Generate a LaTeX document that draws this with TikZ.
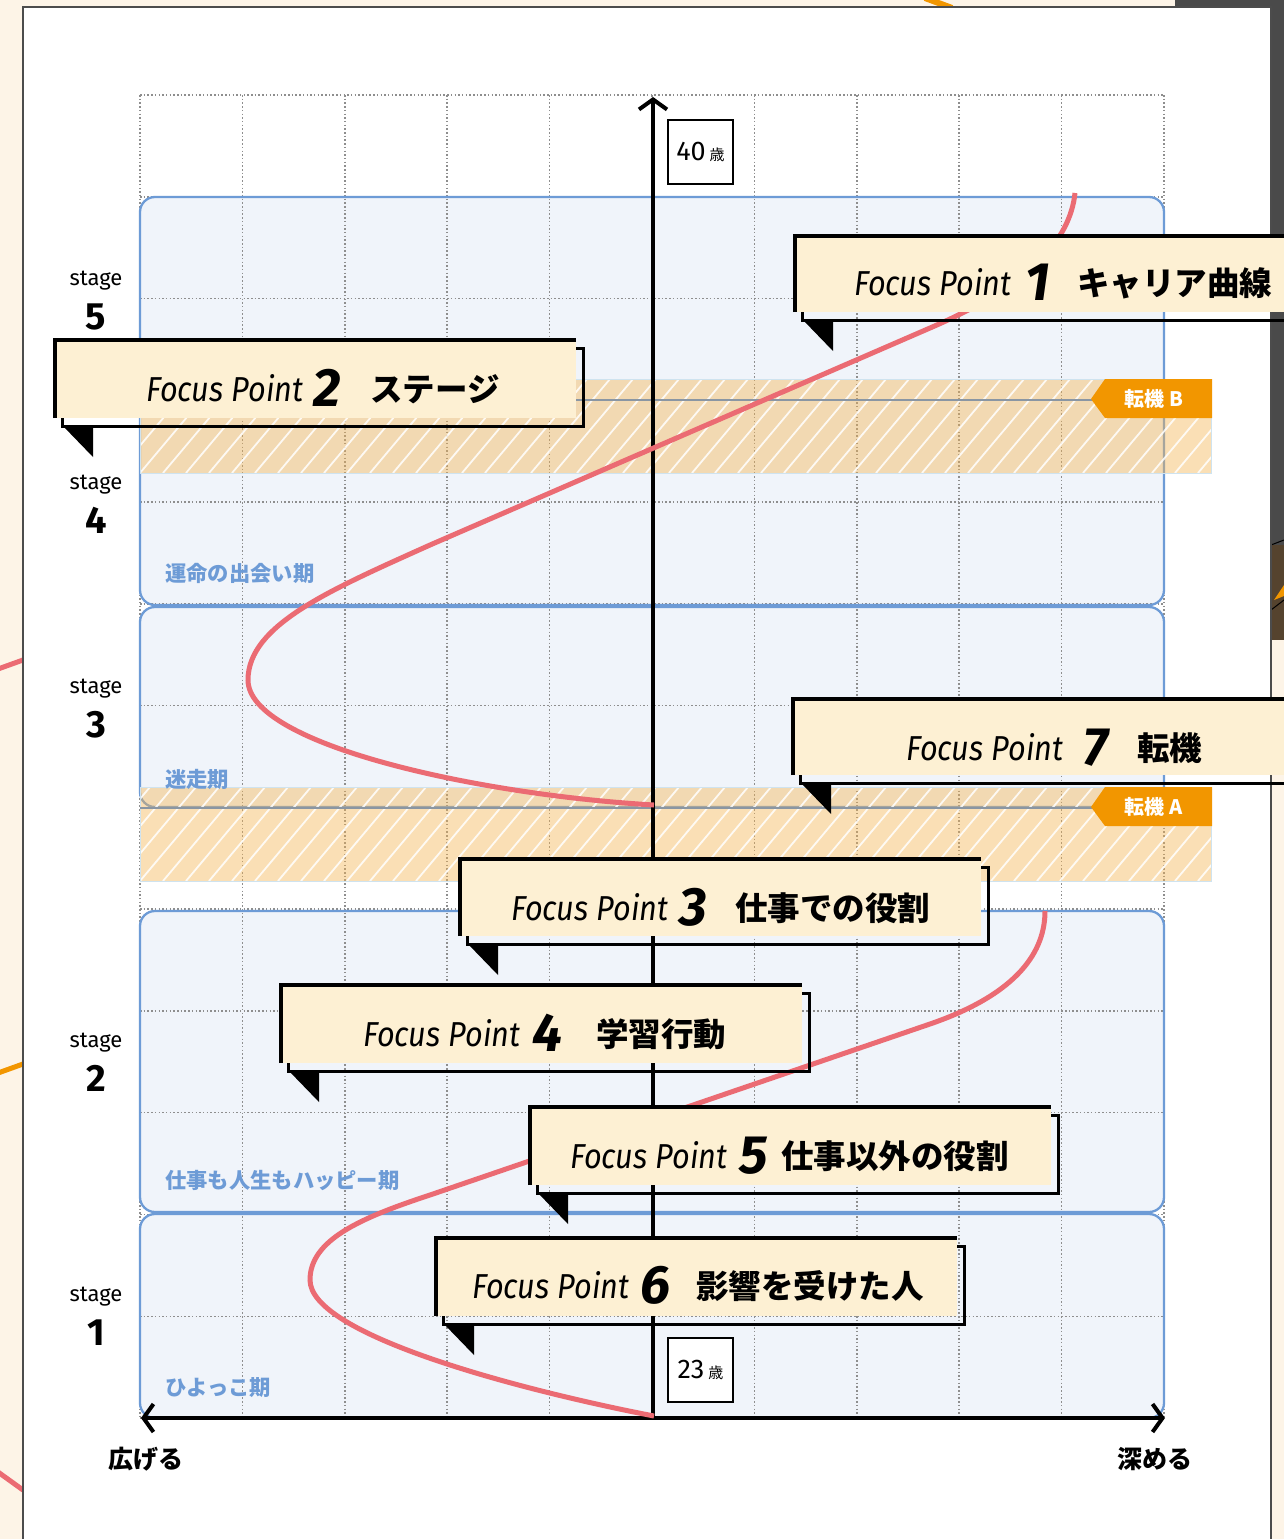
\documentclass[tikz,border=0pt]{standalone}
\usepackage{graphicx}
\usepackage{fontspec}
\setmainfont{Fira Sans}
\newfontfamily\jp{Noto Sans CJK JP}
\usetikzlibrary{arrows.meta}
\definecolor{cream}{HTML}{FDF4E7}
\definecolor{boxblue}{HTML}{6D9BD6}
\definecolor{boxfill}{HTML}{F0F4FA}
\definecolor{fpcream}{HTML}{FDF0D3}
\definecolor{curvered}{HTML}{EB6B73}
\definecolor{tagorange}{HTML}{F29600}
\definecolor{hatchorange}{HTML}{F5B450}
\definecolor{gridgray}{HTML}{8E8E8E}
\definecolor{bandline}{HTML}{8A96A3}
\definecolor{bandedge}{HTML}{CFE3EF}
\definecolor{artgray}{HTML}{4A4A4A}
\definecolor{artbrown}{HTML}{55432E}

\newcommand\fpbox[4]{%
  \draw[line width=3pt] (#1+7,#2+8) rectangle (#3,#4);
  \fill[fpcream] (#1,#2) rectangle (#3-7,#4-8);
  \draw[line width=3.5pt] (#1,#4-8) -- (#1,#2) -- (#3-7,#2);
  \fill (#1+8,#4) -- (#1+38,#4) -- (#1+38,#4+31) -- cycle;
}
\newcommand\fptext[7]{%
  \node[fplabel] (#1a) at (#2,#3) {\resizebox{157pt}{27pt}{\itshape Focus Point}};
  \node[fplabel] (#1b) at (#5,#3+5) {\fontsize{54}{54}\selectfont\bfseries\itshape #4};
  \node[fplabel] (#1c) at (#7,#3) {\jp\bfseries\fontsize{32.5}{33}\selectfont #6};
}
\newcommand\hband[1]{%
  \fill[hatchorange, opacity=0.42] (140,#1) rectangle (1211,#1+94);
  \begin{scope}
    \clip (140,#1) rectangle (1211,#1+94);
    \foreach \i in {-4,...,48} \draw[white, line width=1.8pt, opacity=0.85] ({140+\i*23},#1+94) -- ++(79,-94);
  \end{scope}
  \draw[bandedge, line width=0.8pt] (140,#1) rectangle (1211,#1+94);
}
\newcommand\turntag[3]{%
  \draw[bandline, line width=2.5pt] (140,#1+21) -- (1095,#1+21);
  \fill[tagorange] (1105,#1) -- (1212,#1) -- (1212,#1+39) -- (1105,#1+39) -- (1091,#1+20) -- cycle;
  \node[taglabel] (#2) at (1154,#1+20) {\jp\bfseries 転機\hspace{5pt}\textbf{#3}};
}

\begin{document}
\begin{tikzpicture}[x=1pt,y=-1pt,
  gridline/.style={gridgray, line width=1.5pt, dash pattern=on 1.5pt off 2.2pt},
  stagebox/.style={fill=boxfill, rounded corners=15pt},
  stageedge/.style={draw=boxblue, line width=2.3pt, rounded corners=15pt},
  axisline/.style={line width=4pt, black},
  barb/.tip={Straight Barb[length=10pt, width=28pt, line width=4pt]},
  fplabel/.style={anchor=base west, inner sep=0pt},
  taglabel/.style={text=white, font=\fontsize{20}{20}\selectfont, inner sep=0pt},
  stagelbl/.style={anchor=base, inner sep=0pt, font=\fontsize{22}{22}\selectfont},
  stagenum/.style={anchor=base, inner sep=0pt, font=\fontsize{38}{38}\selectfont\bfseries},
  periodlbl/.style={anchor=base west, inner sep=0pt, text=boxblue, font=\jp\bfseries\fontsize{21.3}{22}\selectfont},
  agebox/.style={draw, line width=2pt, fill=white, minimum width=65pt, minimum height=64pt, inner sep=0pt},
  dirlbl/.style={inner sep=0pt, font=\jp\bfseries\fontsize{25}{25}\selectfont},
  curveline/.style={curvered, line width=5pt}
]
\useasboundingbox (0,0) rectangle (1284,1539);
% background
\fill[cream] (0,0) rectangle (1284,1539);
\draw[tagorange, line width=6pt] (925,-2) -- (952,8);
\draw[curvered, line width=5pt] (-2,669) -- (23,660);
\draw[tagorange, line width=5pt] (-2,1073) -- (23,1064);
\draw[curvered, line width=5pt] (-2,1472) -- (23,1490);
\fill[artgray] (1175,0) rectangle (1284,8);
\fill[artgray] (1271,8) rectangle (1284,545);
\fill[artbrown] (1271,545) rectangle (1284,640);
\draw[black, line width=1pt] (1271,545) -- (1284,540) (1271,610) -- (1284,600);
\fill[tagorange] (1274,600) -- (1284,585) -- (1284,596) -- cycle;
\filldraw[fill=white, draw=black!70, line width=1.5pt] (23,7) rectangle (1271,1550);

% stage boxes
\fill[stagebox] (140,197) rectangle (1164,605);
\fill[stagebox] (140,607) rectangle (1164,807);
\fill[stagebox] (140,911) rectangle (1164,1212);
\fill[stagebox] (140,1214) rectangle (1164,1418);
% grid
\foreach \k in {0,...,10} \draw[gridline] ({140+\k*102.4},95) -- ({140+\k*102.4},1418);
\foreach \j in {0,...,13} \draw[gridline] (140,{95+\j*101.77}) -- (1164,{95+\j*101.77});
% box edges
\draw[stageedge] (140,197) rectangle (1164,605);
\draw[stageedge] (140,607) rectangle (1164,807);
\draw[stageedge] (140,911) rectangle (1164,1212);
\draw[stageedge] (140,1214) rectangle (1164,1418);

% turning-point bands
\hband{379}
\hband{787}
\turntag{379}{tagB}{B}
\turntag{787}{tagA}{A}

% period labels
\node[periodlbl] (p4) at (165,581) {運命の出会い期};
\node[periodlbl] (p3) at (165,787) {迷走期};
\node[periodlbl] (p2) at (165,1188) {仕事も人生もハッピー期};
\node[periodlbl] (p1) at (165,1395) {ひよっこ期};

% axes
\coordinate (O) at (653,1418);
\coordinate (Ytop) at (653,97);
\coordinate (Xl) at (141,1418);
\coordinate (Xr) at (1165,1418);
\draw[axisline, -{barb}] (O) -- (Ytop);
\draw[axisline, {barb}-{barb}] (Xl) -- (Xr);

% age boxes
\node[agebox] (age40) at (700.5,152) {\fontsize{27}{27}\selectfont 40\hspace{4pt}{\jp\fontsize{15}{15}\selectfont 歳}};
\node[agebox] (age23) at (700.5,1369.5) {\fontsize{27}{27}\selectfont 23\hspace{4pt}{\jp\fontsize{15}{15}\selectfont 歳}};

% career curve
\draw[curveline] (654,1416) .. controls (520,1390) and (310,1335) .. (310,1280)
  .. controls (310,1240) and (360,1218) .. (430,1195) -- (930,1024)
  .. controls (1020,993) and (1045,950) .. (1045,911);
\draw[curveline] (654,805) .. controls (480,795) and (248,745) .. (248,680)
  .. controls (248,625) and (330,590) .. (430,545) -- (930,328)
  .. controls (1030,285) and (1070,240) .. (1075,193);

% focus point boxes
\fpbox{795}{236}{1300}{320}
\fptext{fp1}{854}{295}{1}{1025}{キャリア曲線}{1077}
\fpbox{55}{340}{583}{426}
\fptext{fp2}{146}{401}{2}{313}{ステージ}{370}
\fpbox{793}{699}{1300}{783}
\fptext{fp7}{906}{760}{7}{1083}{転機}{1137}
\fpbox{460}{859}{988}{944}
\fptext{fp3}{511}{920}{3}{679}{仕事での役割}{735}
\fpbox{281}{985}{809}{1071}
\fptext{fp4}{363}{1046}{4}{532}{学習行動}{596}
\fpbox{530}{1107}{1058}{1193}
\fptext{fp5}{570}{1168}{5}{739}{仕事以外の役割}{781}
\fpbox{436}{1238}{964}{1324}
\fptext{fp6}{472}{1298}{6}{640}{影響を受けた人}{696}

% stage labels
\node[stagelbl] (st5) at (96,285) {stage};
\node[stagenum] (sn5) at (96,329) {5};
\node[stagelbl] (st4) at (96,489) {stage};
\node[stagenum] (sn4) at (96,533) {4};
\node[stagelbl] (st3) at (96,693) {stage};
\node[stagenum] (sn3) at (96,737) {3};
\node[stagelbl] (st2) at (96,1047) {stage};
\node[stagenum] (sn2) at (96,1091) {2};
\node[stagelbl] (st1) at (96,1301) {stage};
\node[stagenum] (sn1) at (96,1345) {1};

% direction labels
\node[dirlbl] (widen) at (146,1459) {広げる};
\node[dirlbl] (deepen) at (1155,1459) {深める};
\end{tikzpicture}
\end{document}
